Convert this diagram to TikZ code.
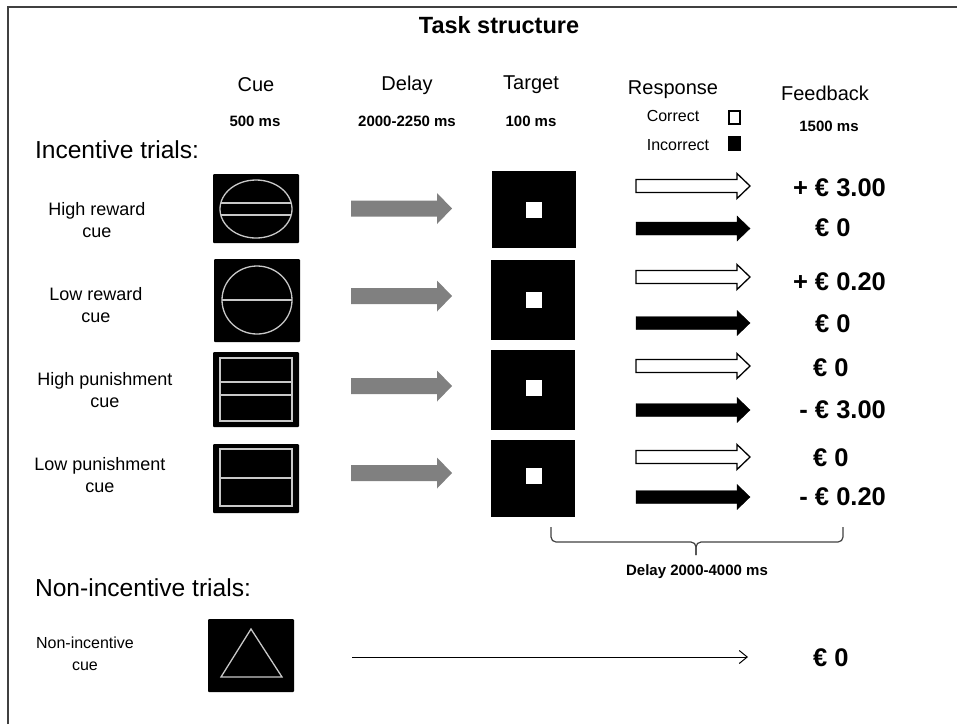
\documentclass[tikz,border=0pt]{standalone}
\usepackage{fontspec}
\setmainfont{Liberation Sans}
\usetikzlibrary{arrows.meta}
\definecolor{cuegray}{HTML}{C8C8C8}
\definecolor{arrgray}{HTML}{808080}
\newcommand\grayarrow[2]{%
  \fill[arrgray] (351,#2-8) -- (437,#2-8) -- (437,#2-15.5) -- (452,#2) -- (437,#2+15.5) -- (437,#2+8) -- (351,#2+8) -- cycle;}
\newcommand\resparrow[2]{%
  \draw[#1] (636,#2-6.5) -- (737,#2-6.5) -- (737,#2-12.5) -- (750,#2) -- (737,#2+12.5) -- (737,#2+6.5) -- (636,#2+6.5) -- cycle;}
\begin{document}
\begin{tikzpicture}[x=1pt,y=-1pt,
  every node/.style={inner sep=0pt, outer sep=0pt},
  hdr/.style={font=\fontsize{20}{24}\selectfont},
  subhdr/.style={font=\bfseries\fontsize{15}{18}\selectfont},
  legend/.style={font=\fontsize{16}{19}\selectfont},
  rowlbl/.style={font=\fontsize{18}{22}\selectfont, align=center},
  sect/.style={font=\fontsize{24.6}{28}\selectfont, anchor=west},
  fb/.style={font=\bfseries\fontsize{25.5}{30}\selectfont, anchor=west},
  cuebox/.style={fill=black, rounded corners=1pt, minimum width=86pt},
  tgtbox/.style={fill=black, minimum width=84pt},
  tgtsq/.style={fill=white, minimum size=16pt},
  cueline/.style={draw=cuegray, line width=1.3pt},
  whitearrow/.style={draw=black, fill=white, line width=1.3pt, line join=miter},
  blackarrow/.style={fill=black},
  bracestyle/.style={draw=black!75, line width=1.2pt, rounded corners=5pt}
]
\useasboundingbox (0,0) rectangle (957,724);
% frame
\draw[black!75, line width=1.5pt] (8,724) -- (8,7) -- (960,7);

% title
\node[font=\bfseries\fontsize{23.5}{27}\selectfont] (title) at (499,25) {Task structure};

% column headers
\node[hdr] (hcue) at (256,85) {Cue};
\node[hdr] (hdelay) at (407,85) {Delay};
\node[hdr] (htgt) at (531,85) {Target};
\node[hdr] (hresp) at (673,90) {Response};
\node[hdr] (hfb) at (825,93) {Feedback};
\node[subhdr] (scue) at (255,121) {500 ms};
\node[subhdr] (sdelay) at (407,121) {2000-2250 ms};
\node[subhdr] (stgt) at (531,121) {100 ms};
\node[subhdr] (sfb) at (829,126) {1500 ms};
\node[legend] (lcor) at (673,116) {Correct};
\node[legend] (linc) at (678,145) {Incorrect};
\node[draw=black, fill=white, line width=1.6pt, minimum width=11pt, minimum height=13pt] (sqcor) at (734.5,117.5) {};
\node[fill=black, minimum width=13pt, minimum height=15pt] (sqinc) at (734.5,143.5) {};

% section titles
\node[sect] (inc) at (35,150) {Incentive trials:};
\node[sect] (noninc) at (35,588) {Non-incentive trials:};

% row labels
\node[rowlbl] (r1) at (97,220) {High reward\\cue};
\node[rowlbl] (r2) at (96,305) {Low reward\\cue};
\node[rowlbl] (r3) at (105,390) {High punishment\\cue};
\node[rowlbl] (r4) at (100,475) {Low punishment\\cue};
\node[rowlbl, font=\fontsize{16}{22}\selectfont] (r5) at (85,654) {Non-incentive\\cue};

% cue boxes
\node[cuebox, minimum height=69pt] (c1) at (256,208.5) {};
\draw[cueline] (256,209) ellipse [x radius=36, y radius=29];
\draw[cueline] (220.8,203) -- (291.2,203) (220.8,215) -- (291.2,215);

\node[cuebox, minimum height=83pt] (c2) at (257,300.5) {};
\draw[cueline] (257,300) ellipse [x radius=35, y radius=34];
\draw[cueline] (222,300) -- (292,300);

\node[cuebox, minimum height=75pt] (c3) at (256,389.5) {};
\draw[cueline] (220,358) rectangle (292,421);
\draw[cueline] (220,382) -- (292,382) (220,395) -- (292,395);

\node[cuebox, minimum height=69pt] (c4) at (256,478.5) {};
\draw[cueline] (220,449) rectangle (292,506);
\draw[cueline] (220,478) -- (292,478);

\node[cuebox, minimum width=86pt, minimum height=73pt] (c5) at (251,655.5) {};
\draw[cueline, line join=miter] (251,629) -- (282,677) -- (221,677) -- cycle;

% delay arrows
\grayarrow{d1}{208.5}
\grayarrow{d2}{296}
\grayarrow{d3}{386}
\grayarrow{d4}{473}

% targets
\node[tgtbox, minimum height=77pt] (t1) at (534,209.5) {};
\node[tgtsq] (s1) at (534,210) {};
\node[tgtbox, minimum height=80pt] (t2) at (533,300) {};
\node[tgtsq] (s2) at (534,300) {};
\node[tgtbox, minimum height=80pt] (t3) at (533,390) {};
\node[tgtsq] (s3) at (534,388) {};
\node[tgtbox, minimum height=77pt] (t4) at (533,478.5) {};
\node[tgtsq] (s4) at (534,476) {};

% response arrows
\resparrow{whitearrow}{186}
\resparrow{blackarrow}{228.5}
\resparrow{whitearrow}{277}
\resparrow{blackarrow}{323}
\resparrow{whitearrow}{366}
\resparrow{blackarrow}{410}
\resparrow{whitearrow}{457}
\resparrow{blackarrow}{497}

% feedback
\node[fb] (f1a) at (815,188) {\llap{+ }€ 3.00};
\node[fb] (f1b) at (815,228) {€ 0};
\node[fb] (f2a) at (815,282) {\llap{+ }€ 0.20};
\node[fb] (f2b) at (815,324) {€ 0};
\node[fb] (f3a) at (813,368) {€ 0};
\node[fb] (f3b) at (815,410) {\llap{- }€ 3.00};
\node[fb] (f4a) at (813,458) {€ 0};
\node[fb] (f4b) at (815,497) {\llap{- }€ 0.20};
\node[fb] (f5) at (813,658) {€ 0};

% brace
\coordinate (bl) at (551,527);
\coordinate (br) at (843,527);
\coordinate (bt) at (696,555);
\draw[bracestyle] (bl) -- (551,542) -- (696,542) -- (bt);
\draw[bracestyle] (br) -- (843,542) -- (696,542) -- (bt);
\node[subhdr] (bdelay) at (697,572) {Delay 2000-4000 ms};

% non-incentive arrow
\coordinate (ns) at (352,657);
\coordinate (ne) at (748,657);
\draw[line width=1pt, -{Straight Barb[length=8pt,width=13pt]}] (ns) -- (ne);
\end{tikzpicture}
\end{document}
